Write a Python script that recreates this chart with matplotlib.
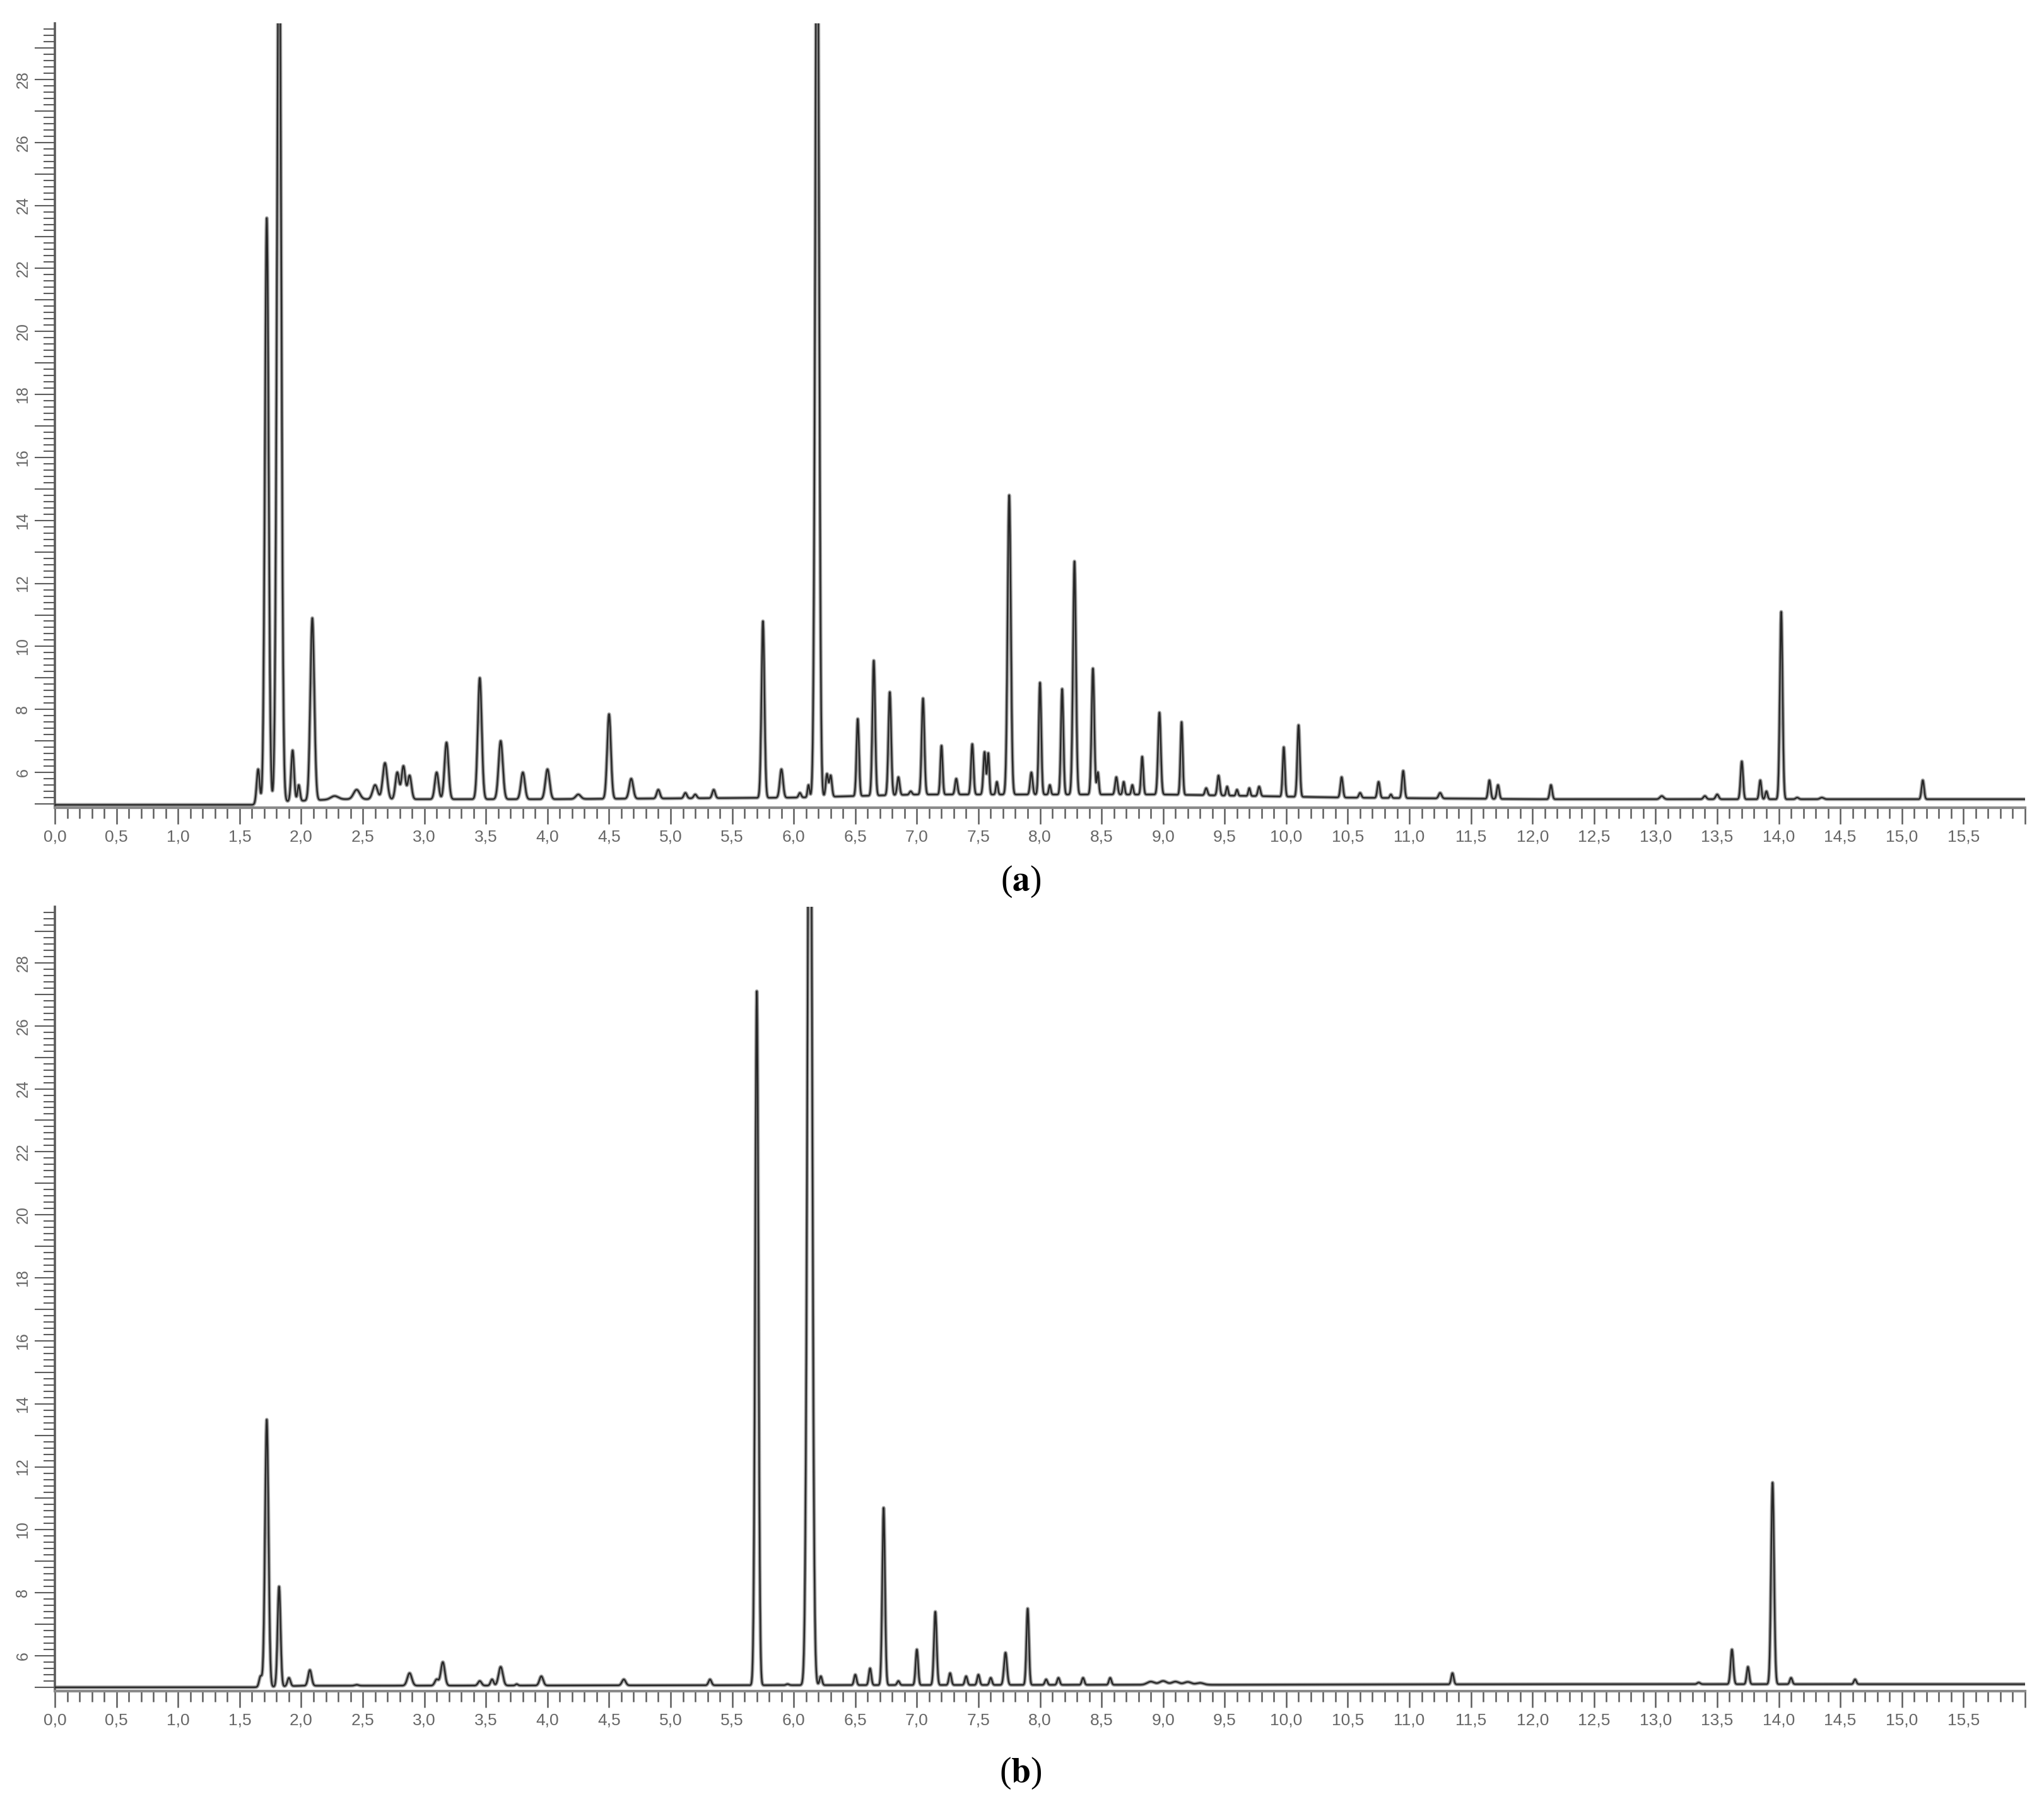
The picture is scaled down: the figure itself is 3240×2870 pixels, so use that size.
import matplotlib.pyplot as plt
import numpy as np
from matplotlib.ticker import MultipleLocator, FuncFormatter

plt.rcParams['mathtext.fontset'] = 'stix'

# panel (a): peak retention time (min), apex height, peak sigma (min)
rt_a = [1.65, 1.72, 1.82, 1.93, 1.98, 2.09, 2.27, 2.45, 2.60, 2.68, 2.78, 2.83, 2.88,
        3.10, 3.18, 3.45, 3.62, 3.80, 4.00, 4.25, 4.50, 4.68, 4.90, 5.12, 5.20, 5.35,
        5.75, 5.90, 6.05, 6.12, 6.19, 6.27, 6.30, 6.52, 6.65, 6.78, 6.85, 6.95, 7.05,
        7.20, 7.32, 7.45, 7.55, 7.58, 7.65, 7.75, 7.93, 8.00, 8.08, 8.18, 8.28, 8.43,
        8.47, 8.62, 8.68, 8.75, 8.83, 8.97, 9.15, 9.35, 9.45, 9.52, 9.60, 9.70, 9.78,
        9.98, 10.10, 10.45, 10.60, 10.75, 10.85, 10.95, 11.25, 11.65, 11.72, 12.15,
        13.05, 13.40, 13.50, 13.70, 13.85, 13.90, 14.02, 14.15, 14.35, 15.17, 15.40, 15.85]
h_a = [6.1, 23.6, 34.0, 6.7, 5.6, 10.9, 5.25, 5.45, 5.6, 6.3, 6.0, 6.2, 5.9,
       6.0, 6.95, 9.0, 7.0, 6.0, 6.1, 5.3, 7.85, 5.8, 5.45, 5.35, 5.3, 5.45,
       10.8, 6.1, 5.35, 5.6, 36.0, 5.95, 5.9, 7.7, 9.55, 8.55, 5.85, 5.4, 8.35,
       6.85, 5.8, 6.9, 6.65, 6.6, 5.7, 14.8, 6.0, 8.85, 5.6, 8.65, 12.7, 9.3,
       6.0, 5.85, 5.7, 5.6, 6.5, 7.9, 7.6, 5.5, 5.9, 5.55, 5.45, 5.5, 5.55,
       6.8, 7.5, 5.85, 5.35, 5.7, 5.3, 6.05, 5.35, 5.75, 5.6, 5.6,
       5.25, 5.25, 5.3, 6.35, 5.75, 5.4, 11.1, 5.2, 5.2, 5.75, 5.15, 5.15]
w_a = [0.012, 0.015, 0.017, 0.012, 0.010, 0.016, 0.030, 0.025, 0.020, 0.018, 0.015, 0.015, 0.015,
       0.015, 0.016, 0.016, 0.017, 0.016, 0.017, 0.020, 0.015, 0.016, 0.013, 0.012, 0.012, 0.012,
       0.012, 0.013, 0.010, 0.008, 0.015, 0.010, 0.010, 0.010, 0.011, 0.011, 0.010, 0.010, 0.011,
       0.009, 0.010, 0.010, 0.010, 0.008, 0.008, 0.013, 0.010, 0.010, 0.008, 0.010, 0.012, 0.011,
       0.008, 0.010, 0.008, 0.008, 0.009, 0.011, 0.009, 0.010, 0.010, 0.008, 0.008, 0.008, 0.010,
       0.009, 0.010, 0.010, 0.010, 0.010, 0.008, 0.010, 0.012, 0.010, 0.010, 0.010,
       0.015, 0.012, 0.012, 0.010, 0.009, 0.009, 0.011, 0.012, 0.015, 0.010, 0.012, 0.015]
base_t_a = [0.0, 1.60, 1.70, 2.30, 4.00, 6.00, 7.00, 9.00, 10.50, 12.00, 16.00]
base_y_a = [4.97, 4.97, 5.05, 5.15, 5.15, 5.2, 5.3, 5.3, 5.2, 5.15, 5.15]

# panel (b)
rt_b = [1.67, 1.72, 1.82, 1.90, 2.07, 2.45, 2.88, 3.10, 3.15, 3.45, 3.55, 3.62, 3.75, 3.95,
        4.62, 5.32, 5.70, 5.95, 6.13, 6.22, 6.50, 6.62, 6.73, 6.85, 7.00, 7.15, 7.27,
        7.40, 7.50, 7.60, 7.72, 7.90, 8.05, 8.15, 8.35, 8.57, 8.90, 9.00, 9.10, 9.20,
        9.30, 11.35, 13.35, 13.62, 13.75, 13.95, 14.10, 14.62]
h_b = [5.35, 13.5, 8.2, 5.3, 5.55, 5.08, 5.45, 5.25, 5.8, 5.2, 5.25, 5.65, 5.1, 5.35,
       5.25, 5.25, 27.1, 5.1, 40.0, 5.35, 5.4, 5.6, 10.7, 5.2, 6.2, 7.4, 5.45,
       5.35, 5.4, 5.3, 6.1, 7.5, 5.25, 5.3, 5.3, 5.3, 5.18, 5.2, 5.18, 5.17,
       5.14, 5.45, 5.15, 6.2, 5.65, 11.5, 5.3, 5.25]
w_b = [0.012, 0.014, 0.012, 0.012, 0.014, 0.015, 0.018, 0.015, 0.016, 0.014, 0.012, 0.017, 0.010, 0.015,
       0.015, 0.012, 0.013, 0.012, 0.018, 0.010, 0.010, 0.010, 0.011, 0.010, 0.010, 0.011, 0.010,
       0.010, 0.010, 0.010, 0.012, 0.010, 0.010, 0.010, 0.010, 0.010, 0.030, 0.030, 0.030, 0.030,
       0.030, 0.010, 0.012, 0.011, 0.010, 0.012, 0.010, 0.010]
base_t_b = [0.0, 1.60, 2.00, 8.50, 9.50, 12.00, 16.00]
base_y_b = [5.0, 5.0, 5.05, 5.08, 5.08, 5.1, 5.1]

# axis ranges
x_range = (0.0, 16.0)
y_range = (4.88, 29.78)
panel_labels = ["a", "b"]

t = np.linspace(x_range[0], x_range[1], 16001)


def trace(rt, h, w, bt, by):
    base = np.interp(t, bt, by)
    y = base.copy()
    for r, hh, ww in zip(rt, h, w):
        amp = hh - np.interp(r, bt, by)
        y += amp * np.exp(-(t - r) ** 2 / (2 * ww ** 2))
    return y


def style_axes(ax):
    ax.set_xlim(*x_range)
    ax.set_ylim(*y_range)
    for s in ["top", "right"]:
        ax.spines[s].set_visible(False)
    ax.spines["left"].set_color("#5a5a5a")
    ax.spines["left"].set_linewidth(2.6)
    ax.spines["bottom"].set_color("#8a8a8a")
    ax.spines["bottom"].set_linewidth(3.0)

    ax.xaxis.set_major_locator(MultipleLocator(0.5))
    ax.xaxis.set_minor_locator(MultipleLocator(0.1))
    ax.xaxis.set_major_formatter(FuncFormatter(
        lambda v, p: "" if v > 15.9 else f"{v:.1f}".replace(".", ",")))
    ax.yaxis.set_major_locator(MultipleLocator(1))
    ax.yaxis.set_minor_locator(MultipleLocator(0.2))
    ax.yaxis.set_major_formatter(FuncFormatter(
        lambda v, p: f"{int(round(v))}" if round(v) % 2 == 0 and v > 5.5 else ""))

    ax.tick_params(axis="x", which="major", length=19, width=1.8, color="#5c5c5c",
                   labelsize=19, labelcolor="#666666", pad=6)
    ax.tick_params(axis="x", which="minor", length=12, width=1.8, color="#5c5c5c")
    ax.tick_params(axis="y", which="major", length=23, width=1.5, color="#5c5c5c",
                   labelsize=18, labelcolor="#666666", pad=5, labelrotation=90)
    ax.tick_params(axis="y", which="minor", length=13, width=1.5, color="#5c5c5c")
    for lab in ax.get_yticklabels():
        lab.set_va("center")


fig = plt.figure(figsize=(32.4, 28.7), dpi=100)
plt.rcParams['font.family'] = ['Liberation Sans', 'DejaVu Sans']

ax_a = fig.add_axes([0.0269, 0.554, 0.9638, 0.4331])
ax_b = fig.add_axes([0.0269, 0.0662, 0.9638, 0.4331])

for ax, (rt, h, w, bt, by) in zip(
        [ax_a, ax_b],
        [(rt_a, h_a, w_a, base_t_a, base_y_a), (rt_b, h_b, w_b, base_t_b, base_y_b)]):
    y = trace(rt, h, w, bt, by)
    ax.plot(t, y, color="#a0a0a0", lw=4.2, solid_joinstyle="round", zorder=2)
    ax.plot(t, y, color="#262626", lw=1.7, zorder=3)
    style_axes(ax)

for lab, ypos in zip(panel_labels, [0.5132, 0.0209]):
    fig.text(0.4994, ypos, "(" + r"$\mathbf{" + lab + "}$" + ")",
             family="Liberation Serif", fontsize=40, ha="center", va="center")

fig.savefig("out.png", dpi=100)
